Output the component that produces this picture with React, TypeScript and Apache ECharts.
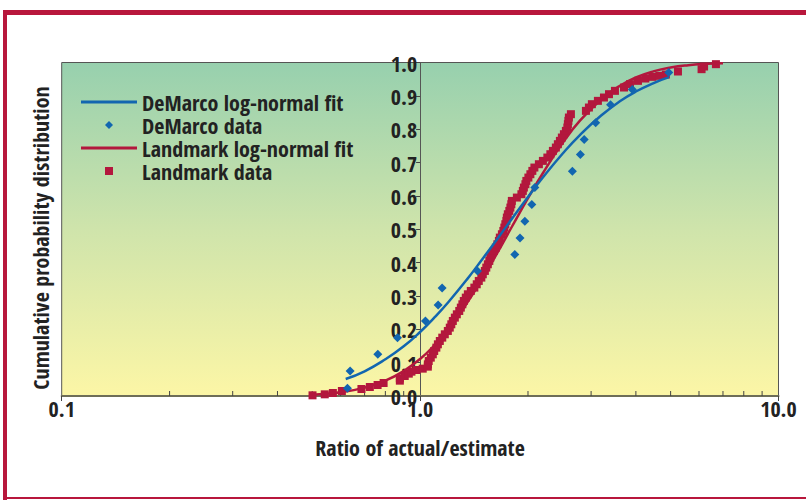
import React, { useEffect, useRef } from 'react';
import * as echarts from 'echarts';

const FONT = "'Noto Sans Condensed', 'Open Sans Condensed', 'DejaVu Sans Condensed', sans-serif";
const BLUE = '#1266b0';
const RED = '#b3173d';
const FRAME = '#b8173c';

const seriesNames = ['DeMarco log-normal fit', 'DeMarco data', 'Landmark log-normal fit', 'Landmark data'];
const xAxisTitle = 'Ratio of actual/estimate';
const yAxisTitle = 'Cumulative probability distribution';
const xTickLabels: Record<string, string> = { '0.1': '0.1', '1': '1.0', '10': '10.0' };
const xMinorTicks = [0.2, 0.3, 0.4, 0.5, 0.6, 0.7, 0.8, 0.9, 2, 3, 4, 5, 6, 7, 8, 9];

const demarcoData: [number, number][] = [
  [0.627, 0.023], [0.638, 0.075], [0.762, 0.125], [0.865, 0.175], [1.035, 0.225],
  [1.123, 0.273], [1.152, 0.324], [1.446, 0.375], [1.838, 0.424], [1.90, 0.474],
  [1.96, 0.524], [2.05, 0.574], [2.09, 0.625], [2.66, 0.674], [2.80, 0.724],
  [2.87, 0.769], [3.09, 0.819], [3.40, 0.873], [3.91, 0.919], [4.94, 0.970],
];

const demarcoFit: [number, number][] = [
  [0.62, 0.051], [0.7, 0.074], [0.8, 0.110], [0.9, 0.149], [1.0, 0.192], [1.1, 0.237],
  [1.2, 0.282], [1.35, 0.349], [1.5, 0.414], [1.65, 0.474], [1.8, 0.530], [2.0, 0.597],
  [2.2, 0.655], [2.5, 0.727], [2.8, 0.784], [3.2, 0.841], [3.6, 0.883], [4.0, 0.913],
  [4.5, 0.939], [4.95, 0.956],
];

const landmarkFit: [number, number][] = [
  [0.5, 0.004], [0.55, 0.007], [0.6, 0.011], [0.7, 0.025], [0.8, 0.046], [0.9, 0.075],
  [1.0, 0.111], [1.1, 0.154], [1.2, 0.201], [1.35, 0.278], [1.5, 0.356], [1.65, 0.433],
  [1.8, 0.506], [2.0, 0.593], [2.2, 0.668], [2.5, 0.759], [2.8, 0.827], [3.2, 0.889],
  [3.6, 0.929], [4.0, 0.955], [4.5, 0.974], [5.0, 0.985], [5.6, 0.992], [6.3, 0.996],
  [7.0, 0.998],
];

const landmarkData: [number, number][] = [
  [0.501, 0.002], [0.542, 0.005], [0.571, 0.009], [0.605, 0.015], [0.686, 0.021], [0.724, 0.027],
  [0.761, 0.033], [0.791, 0.039], [0.878, 0.046], [0.878, 0.053], [0.906, 0.060], [0.930, 0.067],
  [0.946, 0.073], [0.977, 0.078], [1.017, 0.082], [1.051, 0.088], [1.051, 0.095], [1.057, 0.105],
  [1.071, 0.115], [1.085, 0.125], [1.095, 0.135], [1.110, 0.145], [1.121, 0.155], [1.135, 0.165],
  [1.153, 0.175], [1.172, 0.185], [1.195, 0.195], [1.210, 0.205], [1.222, 0.215], [1.234, 0.225],
  [1.250, 0.235], [1.266, 0.245], [1.286, 0.255], [1.299, 0.265], [1.312, 0.275], [1.324, 0.285],
  [1.341, 0.295], [1.359, 0.305], [1.385, 0.315], [1.417, 0.325], [1.439, 0.335], [1.458, 0.345],
  [1.482, 0.355], [1.496, 0.365], [1.516, 0.375], [1.530, 0.385], [1.545, 0.395], [1.560, 0.405],
  [1.570, 0.415], [1.586, 0.425], [1.606, 0.435], [1.627, 0.445], [1.643, 0.455], [1.659, 0.465],
  [1.669, 0.475], [1.691, 0.485], [1.707, 0.495], [1.718, 0.505], [1.729, 0.515], [1.741, 0.525],
  [1.746, 0.535], [1.757, 0.545], [1.774, 0.555], [1.786, 0.565], [1.797, 0.575], [1.803, 0.585],
  [1.862, 0.595], [1.917, 0.605], [1.935, 0.615], [1.948, 0.625], [1.967, 0.635], [1.979, 0.645],
  [2.005, 0.655], [2.031, 0.665], [2.057, 0.675], [2.084, 0.685], [2.145, 0.695], [2.201, 0.705],
  [2.265, 0.715], [2.309, 0.725], [2.347, 0.735], [2.392, 0.745], [2.423, 0.755], [2.455, 0.765],
  [2.486, 0.775], [2.519, 0.785], [2.551, 0.795], [2.576, 0.805], [2.584, 0.815], [2.593, 0.825],
  [2.601, 0.835], [2.635, 0.845], [2.902, 0.855], [2.958, 0.865], [3.015, 0.875], [3.134, 0.885],
  [3.258, 0.895], [3.365, 0.905], [3.497, 0.915], [3.706, 0.925], [3.851, 0.935], [4.054, 0.945],
  [4.25, 0.952], [4.45, 0.957], [4.65, 0.960], [4.85, 0.964], [5.242, 0.973], [6.10, 0.980],
  [6.20, 0.988], [6.69, 0.995],
];

const LINE_ICON = 'path://M0,0 L56,0 L56,3 L0,3 Z';
const DIAMOND_ICON = 'path://M4,0 L8,4 L4,8 L0,4 Z';
const SQUARE_ICON = 'path://M0,0 L7,0 L7,7 L0,7 Z';

export default function App() {
  const ref = useRef<HTMLDivElement>(null);
  useEffect(() => {
    document.body.style.margin = '0';
    const chart = echarts.init(ref.current!, undefined, { renderer: 'svg' });
    const gridLeft = 61.7;
    const gridRight = 778.5;
    const yAxisX = gridLeft + (gridRight - gridLeft) * 0.5;
    chart.setOption({
      animation: false,
      backgroundColor: '#ffffff',
      grid: {
        left: gridLeft,
        right: 806 - gridRight,
        top: 62.5,
        bottom: 104,
        show: true,
        borderColor: '#555555',
        borderWidth: 1,
        backgroundColor: new echarts.graphic.LinearGradient(0, 0, 0, 1, [
          { offset: 0, color: '#97d0ae' },
          { offset: 0.5, color: '#cfe4ab' },
          { offset: 1, color: '#fcf6a6' },
        ]),
      },
      legend: {
        data: [
          { name: seriesNames[0], icon: LINE_ICON },
          { name: seriesNames[1], icon: DIAMOND_ICON },
          { name: seriesNames[2], icon: LINE_ICON },
          { name: seriesNames[3], icon: SQUARE_ICON },
        ],
        orient: 'vertical',
        left: 81,
        top: 91,
        padding: 0,
        itemWidth: 56,
        itemHeight: 8,
        itemGap: 1,
        symbolKeepAspect: true,
        selectedMode: false,
        textStyle: { fontFamily: FONT, fontWeight: 'bold', fontSize: 22, color: '#222222', lineHeight: 22 },
      },
      xAxis: {
        type: 'log',
        logBase: 10,
        min: 0.1,
        max: 10,
        name: xAxisTitle,
        nameLocation: 'middle',
        nameGap: 40,
        nameTextStyle: { fontFamily: FONT, fontWeight: 'bold', fontSize: 22, color: '#222222' },
        axisLine: { show: true, lineStyle: { color: '#6e6e58', width: 2 } },
        axisTick: { show: true, length: 5, lineStyle: { color: '#444444' } },
        axisLabel: {
          margin: 1,
          fontFamily: FONT,
          fontWeight: 'bold',
          fontSize: 22,
          color: '#222222',
          formatter: (v: number) => xTickLabels[String(v)] ?? String(v),
        },
        splitLine: { show: false },
        minorTick: { show: false },
      },
      yAxis: {
        type: 'value',
        min: 0,
        max: 1,
        interval: 0.1,
        position: 'left',
        offset: -(yAxisX - gridLeft),
        axisLine: { show: true, lineStyle: { color: '#555555', width: 1 } },
        axisTick: { show: true, length: 4, lineStyle: { color: '#444444' } },
        axisLabel: {
          margin: 3,
          fontFamily: FONT,
          fontWeight: 'bold',
          fontSize: 22,
          color: '#222222',
          formatter: (v: number) => v.toFixed(1),
        },
        splitLine: { show: false },
      },
      graphic: [
        { type: 'rect', shape: { x: 3, y: 10, width: 4, height: 490 }, style: { fill: FRAME } },
        { type: 'rect', shape: { x: 3, y: 10, width: 803, height: 5 }, style: { fill: FRAME } },
        { type: 'rect', shape: { x: 3, y: 497, width: 803, height: 2 }, style: { fill: FRAME } },
        {
          type: 'text',
          x: 40,
          y: 238,
          rotation: Math.PI / 2,
          style: {
            text: yAxisTitle,
            fontFamily: FONT,
            fontWeight: 'bold',
            fontSize: 22,
            fill: '#222222',
            align: 'center',
            verticalAlign: 'middle',
          },
        },
      ],
      series: [
        {
          type: 'custom',
          name: 'minorTicks',
          silent: true,
          coordinateSystem: 'cartesian2d',
          data: xMinorTicks.map((v) => [v, 0]),
          renderItem: (_params: any, api: any) => {
            const p = api.coord([api.value(0), 0]);
            return {
              type: 'line',
              shape: { x1: p[0], y1: p[1], x2: p[0], y2: p[1] - 5 },
              style: { stroke: '#444444', lineWidth: 1 },
            };
          },
          z: 1,
        },
        {
          type: 'scatter',
          name: seriesNames[3],
          data: landmarkData,
          symbol: 'rect',
          symbolSize: 8,
          itemStyle: { color: RED, opacity: 1 },
          z: 2,
        },
        {
          type: 'line',
          name: seriesNames[2],
          data: landmarkFit,
          smooth: true,
          symbol: 'none',
          lineStyle: { color: RED, width: 2.5 },
          itemStyle: { color: RED },
          z: 3,
        },
        {
          type: 'line',
          name: seriesNames[0],
          data: demarcoFit,
          smooth: true,
          symbol: 'none',
          lineStyle: { color: BLUE, width: 2.5 },
          itemStyle: { color: BLUE },
          z: 4,
        },
        {
          type: 'scatter',
          name: seriesNames[1],
          data: demarcoData,
          symbol: 'diamond',
          symbolSize: 9,
          itemStyle: { color: BLUE, opacity: 1 },
          z: 5,
        },
      ],
    });
    return () => chart.dispose();
  }, []);
  return <div ref={ref} style={{ width: 806, height: 500 }} />;
}
